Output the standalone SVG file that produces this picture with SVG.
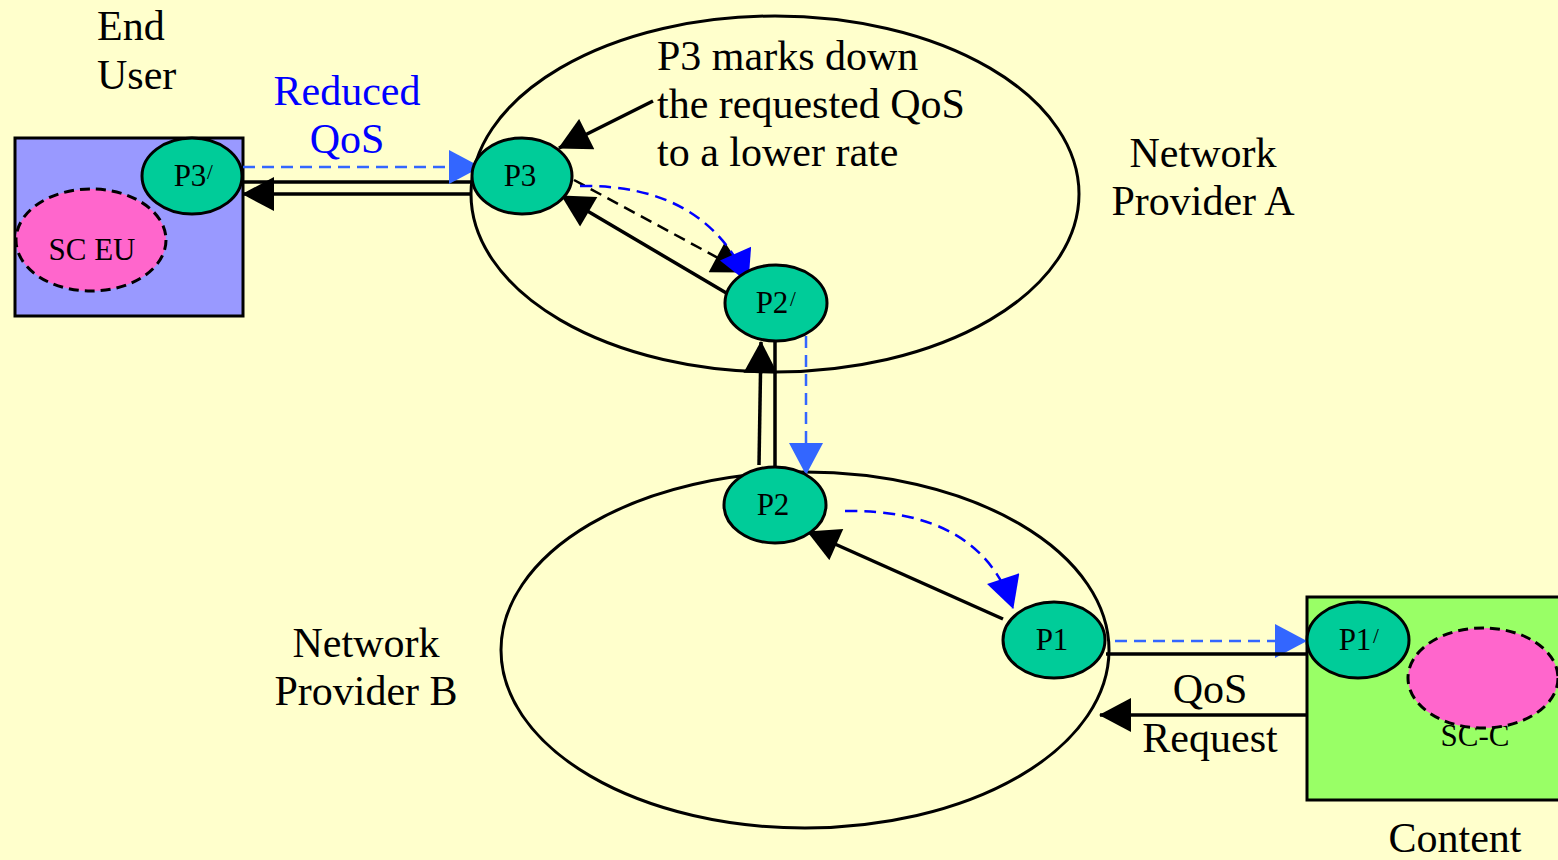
<svg xmlns="http://www.w3.org/2000/svg" width="1558" height="860" viewBox="0 0 1558 860">
<style>
text{font-family:"Liberation Serif","Times New Roman",serif;fill:#000}
.big{font-size:42px}
.nl{font-size:31px}
.pr{font-size:21px}
.node{fill:#00CC99;stroke:#000;stroke-width:3}
.sc{fill:#FF66CC;stroke:#000;stroke-width:3;stroke-dasharray:10 6}
.net{fill:none;stroke:#000;stroke-width:3}
.k{fill:none;stroke:#000;stroke-width:3.5}
.kd{fill:none;stroke:#000;stroke-width:2.5;stroke-dasharray:12 7}
.bl{fill:none;stroke:#3366FF;stroke-width:2.5;stroke-dasharray:12 7}
.bd{fill:none;stroke:#0000FF;stroke-width:2.5;stroke-dasharray:12 7}
</style>
<defs>
<marker id="ak" markerUnits="userSpaceOnUse" markerWidth="34" markerHeight="34" viewBox="0 0 32 34" refX="31" refY="17" orient="auto"><path d="M0,0 L32,17 L0,34 z" fill="#000"/></marker>
<marker id="al" markerUnits="userSpaceOnUse" markerWidth="34" markerHeight="34" viewBox="0 0 32 34" refX="31" refY="17" orient="auto"><path d="M0,0 L32,17 L0,34 z" fill="#3366FF"/></marker>
<marker id="ad" markerUnits="userSpaceOnUse" markerWidth="34" markerHeight="34" viewBox="0 0 32 34" refX="31" refY="17" orient="auto"><path d="M0,0 L32,17 L0,34 z" fill="#0000FF"/></marker>
</defs>
<rect width="1558" height="860" fill="#FFFFCC"/>

<g id="providerA">
<ellipse class="net" cx="775" cy="194" rx="304" ry="178"/>
<text class="big" x="1203" y="167" text-anchor="middle">Network</text>
<text class="big" x="1203" y="215" text-anchor="middle">Provider A</text>
</g>
<g id="providerB">
<ellipse class="net" cx="805" cy="650" rx="304" ry="178"/>
<text class="big" x="366" y="657" text-anchor="middle">Network</text>
<text class="big" x="366" y="705" text-anchor="middle">Provider B</text>
</g>

<g id="endUser">
<rect x="15" y="138" width="228" height="178" fill="#9999FF" stroke="#000" stroke-width="3"/>
<text class="big" x="97" y="40">End</text>
<text class="big" x="97" y="89">User</text>
</g>
<g id="scEU">
<ellipse class="sc" cx="91" cy="240" rx="75" ry="51"/>
<text class="nl" x="92" y="260" text-anchor="middle">SC EU</text>
</g>

<g id="content">
<rect x="1307" y="597" width="260" height="203" fill="#99FF66" stroke="#000" stroke-width="3"/>
<text class="big" x="1455" y="852" text-anchor="middle">Content</text>
</g>
<g id="scC">
<text class="nl" x="1475" y="746" text-anchor="middle">SC-C</text>
<ellipse class="sc" cx="1483" cy="678" rx="75" ry="50"/>
</g>

<g id="note">
<text class="big" x="657" y="70">P3 marks down</text>
<text class="big" x="657" y="118">the requested QoS</text>
<text class="big" x="657" y="166">to a lower rate</text>
</g>
<g id="reducedQoS">
<text class="big" x="347" y="105" text-anchor="middle" style="fill:#0000FF">Reduced</text>
<text class="big" x="347" y="153" text-anchor="middle" style="fill:#0000FF">QoS</text>
</g>
<g id="qosRequest">
<text class="big" x="1210" y="703" text-anchor="middle">QoS</text>
<text class="big" x="1210" y="752" text-anchor="middle">Request</text>
</g>

<g id="connectors">
<line class="k" x1="243" y1="182" x2="472" y2="182"/>
<line class="k" x1="472" y1="194" x2="243" y2="194" marker-end="url(#ak)"/>
<line class="bl" x1="243" y1="167" x2="480" y2="167" marker-end="url(#al)"/>
<line class="k" x1="653" y1="101" x2="559" y2="148" marker-end="url(#ak)"/>
<line class="kd" x1="574" y1="180" x2="744" y2="272" marker-end="url(#ak)"/>
<line class="k" x1="728" y1="294" x2="562" y2="196" marker-end="url(#ak)"/>
<path class="bd" d="M580,186 Q705,184 748,282" marker-end="url(#ad)"/>
<line class="k" x1="775" y1="341" x2="775" y2="467"/>
<line class="k" x1="759" y1="465" x2="761" y2="342" marker-end="url(#ak)"/>
<line class="bl" x1="806" y1="336" x2="806" y2="474" marker-end="url(#al)"/>
<path class="bd" d="M845,511 Q980,509 1013,608" marker-end="url(#ad)"/>
<line class="k" x1="1003" y1="619" x2="808" y2="532" marker-end="url(#ak)"/>
<line class="bl" x1="1115" y1="641" x2="1306" y2="641" marker-end="url(#al)"/>
<line class="k" x1="1106" y1="654" x2="1307" y2="654"/>
<line class="k" x1="1307" y1="715" x2="1100" y2="715" marker-end="url(#ak)"/>
</g>

<g id="P3prime">
<ellipse class="node" cx="192" cy="176" rx="50" ry="38"/>
<text class="nl" x="190" y="186" text-anchor="middle">P3</text>
<text class="pr" x="207" y="179">/</text>
</g>
<g id="P3">
<ellipse class="node" cx="522" cy="176" rx="50" ry="38"/>
<text class="nl" x="520" y="186" text-anchor="middle">P3</text>
</g>
<g id="P2prime">
<ellipse class="node" cx="776" cy="303" rx="51" ry="38"/>
<text class="nl" x="772" y="313" text-anchor="middle">P2</text>
<text class="pr" x="790" y="306">/</text>
</g>
<g id="P2">
<ellipse class="node" cx="775" cy="505" rx="51" ry="38"/>
<text class="nl" x="773" y="515" text-anchor="middle">P2</text>
</g>
<g id="P1">
<ellipse class="node" cx="1054" cy="640" rx="51" ry="38"/>
<text class="nl" x="1052" y="650" text-anchor="middle">P1</text>
</g>
<g id="P1prime">
<ellipse class="node" cx="1358" cy="640" rx="51" ry="38"/>
<text class="nl" x="1355" y="650" text-anchor="middle">P1</text>
<text class="pr" x="1373" y="643">/</text>
</g>
</svg>
